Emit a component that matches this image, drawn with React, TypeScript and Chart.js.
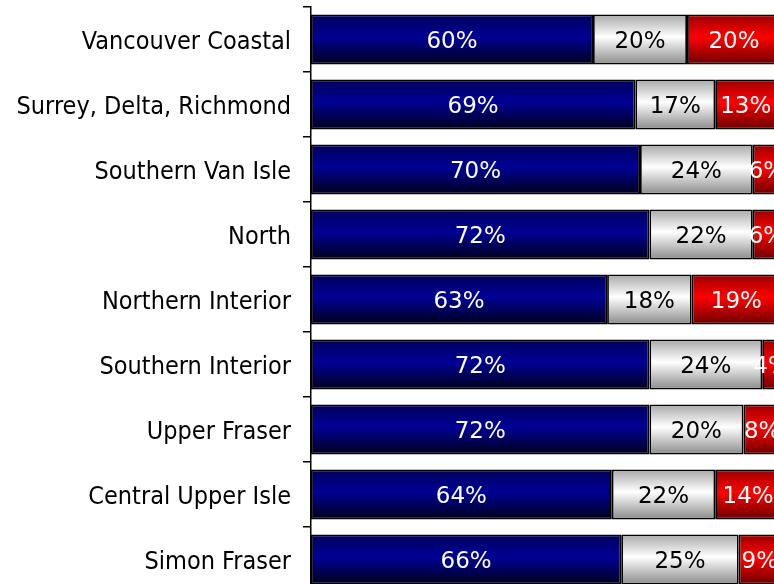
import React, { useEffect, useRef } from "react";
import { Chart, registerables } from "chart.js";

Chart.register(...registerables);

const categories = [
  "Vancouver Coastal",
  "Surrey, Delta, Richmond",
  "Southern Van Isle",
  "North",
  "Northern Interior",
  "Southern Interior",
  "Upper Fraser",
  "Central Upper Isle",
  "Simon Fraser",
];
const blueValues = [60, 69, 70, 72, 63, 72, 72, 64, 66];
const whiteValues = [20, 17, 24, 22, 18, 24, 20, 22, 25];
const redValues = [20, 13, 6, 6, 19, 4, 8, 14, 9];

const FONT = "'DejaVu Sans', sans-serif";
const LABEL_FONT = "'DejaVu Sans Condensed', 'DejaVu Sans', sans-serif";
const BAR_PCT = 0.77;

function gradientFor(stops: [number, string][]) {
  return (ctx: any) => {
    const chart = ctx.chart;
    const y = chart.scales?.y;
    if (!y || ctx.dataIndex === undefined) return stops[1][1];
    const c = y.getPixelForValue(ctx.dataIndex);
    const step = Math.abs(y.getPixelForValue(1) - y.getPixelForValue(0));
    const h = step * BAR_PCT;
    if (!isFinite(c) || !isFinite(h) || h <= 0) return stops[1][1];
    const g = chart.ctx.createLinearGradient(0, c - h / 2, 0, c + h / 2);
    stops.forEach(([o, col]) => g.addColorStop(o, col));
    return g;
  };
}

const labelPlugin = {
  id: "segLabels",
  afterDatasetsDraw(chart: any) {
    const { ctx } = chart;
    ctx.save();
    ctx.font = `23px ${FONT}`;
    ctx.textAlign = "center";
    ctx.textBaseline = "middle";
    chart.data.datasets.forEach((ds: any, di: number) => {
      const meta = chart.getDatasetMeta(di);
      meta.data.forEach((bar: any, i: number) => {
        const v = ds.data[i];
        const { x, base, y } = bar.getProps(["x", "base", "y"], true);
        ctx.fillStyle = di === 1 ? "#000000" : "#ffffff";
        ctx.fillText(`${v}%`, (x + base) / 2, y + 3);
      });
    });
    ctx.restore();
  },
};

export default function App() {
  const ref = useRef<HTMLCanvasElement>(null);
  useEffect(() => {
    if (!ref.current) return;
    const common = {
      borderColor: "#000000",
      borderWidth: 1.8,
      borderSkipped: false as const,
      barPercentage: BAR_PCT,
      categoryPercentage: 1,
    };
    const chart = new Chart(ref.current, {
      type: "bar",
      data: {
        labels: categories,
        datasets: [
          {
            label: "Blue",
            data: blueValues,
            backgroundColor: gradientFor([
              [0, "#00005c"],
              [0.45, "#000096"],
              [1, "#00001c"],
            ]),
            ...common,
          },
          {
            label: "White",
            data: whiteValues,
            backgroundColor: gradientFor([
              [0, "#a8a8a8"],
              [0.45, "#ffffff"],
              [1, "#8a8a8a"],
            ]),
            ...common,
          },
          {
            label: "Red",
            data: redValues,
            backgroundColor: gradientFor([
              [0, "#9a0000"],
              [0.45, "#ff0000"],
              [1, "#6a0000"],
            ]),
            ...common,
          },
        ],
      },
      options: {
        indexAxis: "y",
        responsive: false,
        animation: false,
        devicePixelRatio: 1,
        layout: { padding: { top: 7, bottom: 8, left: 0, right: 9 } },
        plugins: { legend: { display: false }, tooltip: { enabled: false } },
        scales: {
          x: { display: false, stacked: true, min: 0, max: 100 },
          y: {
            stacked: true,
            afterFit: (s: any) => {
              s.width = 311;
              s.paddingTop = 0;
              s.paddingBottom = 0;
            },
            border: { display: true, color: "#000000", width: 1.5 },
            grid: {
              display: true,
              offset: true,
              drawOnChartArea: false,
              drawTicks: true,
              tickLength: 8,
              color: "#000000",
              lineWidth: 1.5,
            },
            ticks: {
              color: "#000000",
              padding: 12,
              labelOffset: 3,
              font: { family: LABEL_FONT, size: 25 },
            },
          },
        },
      },
      plugins: [labelPlugin],
    });
    return () => chart.destroy();
  }, []);
  return (
    <div
      style={{
        position: "fixed",
        left: 0,
        top: 0,
        width: 774,
        height: 584,
        overflow: "hidden",
        background: "#ffffff",
      }}
    >
      <canvas ref={ref} width={790} height={600} style={{ display: "block" }} />
    </div>
  );
}
